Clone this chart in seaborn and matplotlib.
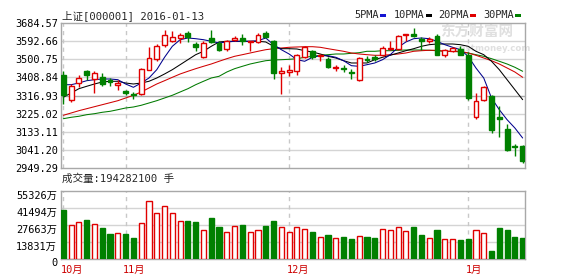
import matplotlib
matplotlib.use("Agg")
import matplotlib.pyplot as plt
import matplotlib.transforms as mtransforms
from matplotlib.patches import Rectangle
import seaborn as sns
import numpy as np
import pandas as pd

# ---------------- data ----------------
dates = (["2015-10-%02d" % d for d in [21, 22, 23, 26, 27, 28, 29, 30]] +
         ["2015-11-%02d" % d for d in [2, 3, 4, 5, 6, 9, 10, 11, 12, 13, 16, 17, 18, 19, 20, 23, 24, 25, 26, 27, 30]] +
         ["2015-12-%02d" % d for d in [1, 2, 3, 4, 7, 8, 9, 10, 11, 14, 15, 16, 17, 18, 21, 22, 23, 24, 25, 28, 29, 30, 31]] +
         ["2016-01-%02d" % d for d in [4, 5, 6, 7, 8, 11, 12, 13]])

open_ = [3419.4, 3295.6, 3380.3, 3442.7, 3402.0, 3409.2, 3394.0, 3371.7, 3339.7, 3324.5,
         3326.0, 3447.8, 3503.5, 3571.5, 3594.8, 3608.5, 3633.9, 3579.6, 3510.6, 3608.5,
         3583.2, 3554.2, 3600.0, 3608.5, 3588.0, 3588.2, 3633.9, 3594.8, 3431.0, 3434.6,
         3442.7, 3510.6, 3541.0, 3515.0, 3503.5, 3456.4, 3456.4, 3434.6, 3397.0, 3503.5,
         3510.0, 3520.8, 3552.7, 3552.7, 3622.0, 3628.8, 3605.0, 3591.8, 3617.0, 3520.8,
         3541.0, 3554.0, 3524.0, 3206.4, 3295.6, 3312.9, 3206.4, 3147.0, 3059.3, 3059.0]
high = [3442.7, 3375.0, 3419.4, 3447.8, 3439.7, 3431.0, 3405.7, 3397.0, 3346.0, 3334.7,
        3455.0, 3561.3, 3578.0, 3650.6, 3644.0, 3633.9, 3644.0, 3588.0, 3591.0, 3650.6,
        3591.8, 3600.0, 3617.0, 3628.8, 3592.0, 3634.0, 3645.0, 3600.0, 3460.0, 3470.0,
        3527.4, 3569.5, 3549.2, 3527.0, 3510.0, 3473.0, 3473.0, 3451.0, 3510.7, 3515.7,
        3520.0, 3566.4, 3594.8, 3622.0, 3628.8, 3659.0, 3612.0, 3612.0, 3630.0, 3554.0,
        3562.9, 3570.0, 3535.0, 3329.6, 3363.6, 3318.0, 3262.0, 3172.4, 3071.0, 3067.5]
low = [3273.8, 3284.0, 3358.5, 3397.0, 3329.6, 3363.6, 3363.6, 3346.0, 3318.0, 3300.7,
       3320.0, 3445.0, 3493.4, 3565.0, 3588.0, 3583.0, 3588.0, 3541.0, 3507.0, 3583.2,
       3541.0, 3544.0, 3594.8, 3574.5, 3544.0, 3583.0, 3608.5, 3402.0, 3324.5, 3414.0,
       3422.4, 3507.0, 3503.5, 3494.0, 3455.0, 3440.0, 3436.0, 3402.0, 3392.0, 3485.0,
       3490.0, 3515.7, 3549.2, 3549.2, 3595.0, 3612.0, 3549.0, 3583.0, 3520.8, 3510.6,
       3536.0, 3520.8, 3296.0, 3199.3, 3290.6, 3126.8, 3105.0, 3037.0, 3008.6, 2974.6]
close = [3321.0, 3363.6, 3405.7, 3422.4, 3429.5, 3375.2, 3385.4, 3380.3, 3328.0, 3318.0,
         3452.8, 3507.0, 3566.4, 3625.2, 3612.0, 3625.0, 3612.0, 3562.9, 3583.0, 3588.2,
         3549.2, 3591.8, 3608.5, 3591.8, 3592.0, 3622.2, 3613.6, 3431.0, 3439.6, 3447.8,
         3520.8, 3561.3, 3510.6, 3520.0, 3460.0, 3463.0, 3451.3, 3431.0, 3507.1, 3497.0,
         3503.5, 3557.8, 3557.8, 3617.0, 3628.8, 3617.0, 3591.8, 3605.0, 3520.8, 3546.0,
         3557.8, 3524.0, 3304.0, 3287.5, 3358.5, 3143.5, 3199.3, 3042.0, 3054.0, 2986.0]
volume = [39870, 27660, 29860, 31730, 28480, 25470, 20340, 21400, 20340, 17330,
          29050, 47430, 37180, 43120, 37180, 30670, 30670, 30100, 23600, 33600,
          26280, 22210, 26850, 27910, 22210, 23600, 27090, 31160, 25790, 22210,
          25790, 24410, 22210, 18140, 19770, 17090, 18140, 16270, 18710, 18140,
          17330, 24300, 23600, 25790, 22780, 26280, 19770, 17090, 23600, 16030,
          16030, 15460, 16270, 23600, 21400, 6750, 25220, 23600, 18140, 17090]

ma5 = [3371.7, 3371.7, 3380.3, 3392.0, 3397.1, 3400.6, 3400.6, 3397.1, 3375.3, 3358.5,
       3380.3, 3405.7, 3447.8, 3510.7, 3566.4, 3599.9, 3608.5, 3605.0, 3599.9, 3591.8,
       3583.2, 3588.3, 3591.8, 3591.8, 3591.8, 3594.8, 3608.5, 3574.6, 3549.2, 3527.4,
       3498.5, 3490.4, 3510.7, 3518.8, 3518.8, 3510.7, 3493.4, 3468.1, 3465.0, 3473.1,
       3481.8, 3498.5, 3523.9, 3561.4, 3588.3, 3605.0, 3608.5, 3605.0, 3591.8, 3574.6,
       3561.4, 3549.2, 3515.7, 3456.4, 3405.7, 3304.3, 3244.9, 3194.2, 3152.1, 3101.4]
ma10 = [3307.8, 3329.6, 3351.4, 3363.6, 3375.3, 3385.4, 3389.0, 3389.0, 3380.3, 3375.3,
        3380.3, 3389.0, 3405.7, 3426.0, 3447.8, 3473.1, 3498.5, 3523.9, 3541.1, 3566.4,
        3588.3, 3591.8, 3591.8, 3591.8, 3591.8, 3591.8, 3588.3, 3566.4, 3554.3, 3554.3,
        3552.8, 3544.1, 3537.5, 3527.4, 3515.7, 3507.1, 3493.4, 3481.8, 3481.8, 3481.8,
        3498.5, 3510.7, 3520.8, 3532.5, 3544.1, 3554.3, 3566.4, 3574.6, 3578.1, 3578.1,
        3578.1, 3574.6, 3566.4, 3541.1, 3523.9, 3490.4, 3447.8, 3397.1, 3346.4, 3295.7]
ma20 = [3216.6, 3228.2, 3239.9, 3250.0, 3260.2, 3270.3, 3280.4, 3290.6, 3304.3, 3318.0,
        3334.7, 3355.0, 3375.3, 3392.0, 3409.2, 3426.0, 3439.7, 3452.9, 3465.0, 3476.7,
        3490.4, 3503.6, 3515.7, 3523.9, 3532.5, 3541.1, 3549.2, 3554.3, 3557.8, 3561.4,
        3562.9, 3564.4, 3564.4, 3561.4, 3554.3, 3547.7, 3541.1, 3532.5, 3527.4, 3523.9,
        3520.8, 3520.8, 3523.9, 3527.4, 3532.5, 3541.1, 3544.1, 3546.2, 3546.2, 3541.1,
        3541.1, 3541.1, 3532.5, 3520.8, 3507.1, 3493.4, 3476.7, 3456.4, 3436.1, 3409.2]
ma30 = [3199.3, 3206.4, 3211.5, 3219.6, 3224.7, 3231.8, 3236.8, 3244.9, 3253.6, 3258.6,
        3267.3, 3278.9, 3290.6, 3304.3, 3318.0, 3334.7, 3351.4, 3371.7, 3389.0, 3405.7,
        3414.3, 3436.1, 3452.9, 3465.0, 3476.7, 3485.3, 3493.4, 3497.0, 3498.5, 3500.5,
        3503.6, 3510.7, 3515.7, 3520.8, 3523.9, 3527.4, 3527.4, 3530.9, 3534.0, 3541.1,
        3541.1, 3544.1, 3544.1, 3546.2, 3547.7, 3547.7, 3547.7, 3546.2, 3544.1, 3541.1,
        3541.1, 3537.5, 3532.5, 3523.9, 3515.7, 3503.6, 3490.4, 3476.7, 3460.0, 3439.7]

price_ticks = [2949.29, 3041.20, 3133.11, 3225.02, 3316.93, 3408.84, 3500.75, 3592.66, 3684.57]
price_tick_labels = ["2949.29", "3041.20", "3133.11", "3225.02", "3316.93",
                     "3408.84", "3500.75", "3592.66", "3684.57"]
vol_ticks = [0, 13831, 27663, 41494, 55326]
vol_tick_labels = ["0", "13831万", "27663万", "41494万", "55326万"]
ma_names = ["5PMA", "10PMA", "20PMA", "30PMA"]
title_text = "上证[000001] 2016-01-13"
vol_title = "成交量:194282100 手"

# ---------------- style ----------------
sns.set_theme(style="white")
FONT = ['DejaVu Sans Mono', 'Noto Sans CJK SC']
plt.rcParams['font.family'] = FONT
plt.rcParams['axes.unicode_minus'] = False

RED = '#e00000'
GREEN = '#008000'
GRID = '#d4d4d4'
SPINE = '#a8a8a8'
ma_colors = {"5PMA": '#00008c', "10PMA": '#000000', "20PMA": '#d00000', "30PMA": '#007a00'}
legend_marker_colors = {"5PMA": '#1414d2', "10PMA": '#000000', "20PMA": '#e00000', "30PMA": '#008000'}
FS = 7.4

W, H = 582, 280
fig = plt.figure(figsize=(W / 100, H / 100), dpi=100)
fig.patch.set_facecolor('white')


def frame(l, t, r, b):
    return [l / W, 1 - b / H, (r - l) / W, (b - t) / H]


ax = fig.add_axes(frame(61, 23, 525, 168))
axv = fig.add_axes(frame(61, 191, 525, 259))

x = np.arange(len(dates))
o = np.array(open_)
c = np.array(close)
hi = np.array(high)
lo = np.array(low)
vol = np.array(volume)
up = c >= o
b_lo = np.minimum(o, c)
b_hi = np.maximum(o, c)

# ---------------- price panel ----------------
for a in (ax, axv):
    a.set_facecolor('white')
    for s in a.spines.values():
        s.set_color(SPINE)
        s.set_linewidth(1)
    a.set_xlim(-0.3, 59.3)
    a.set_xticks([])
    a.tick_params(axis='y', length=0, labelsize=FS, colors='black')

ax.set_ylim(price_ticks[0], price_ticks[-1])
ax.set_yticks(price_ticks)
ax.set_yticklabels(price_tick_labels)
ax.tick_params(axis='y', pad=2.2)
for v in price_ticks[1:-1]:
    ax.axhline(v, color=(SPINE if v == price_ticks[4] else GRID), lw=1, zorder=0.5)

# month boundaries
months = [d[:7] for d in dates]
month_starts = [i for i in range(len(months)) if i == 0 or months[i] != months[i - 1]]
for i in month_starts:
    for a in (ax, axv):
        a.axvline(i, color='#c8c8c8', lw=1, ls=(0, (3, 3)), zorder=0.6)

# watermark
ax.text(440 / W, 1 - 32 / H, "东方财富网", transform=fig.transFigure, fontsize=10.5,
        fontweight='bold', color='#e0e0e0', family=['Noto Sans CJK SC'], va='center',
        ha='left', zorder=0.7, clip_on=False)
ax.text(455 / W, 1 - 48 / H, "eastmoney.com", transform=fig.transFigure, fontsize=6.2,
        fontweight='bold', color='#e0e0e0', family=['DejaVu Sans'], va='center',
        ha='left', zorder=0.7, clip_on=False)

# MA lines via seaborn
ma_df = pd.DataFrame({"x": x, "5PMA": ma5, "10PMA": ma10, "20PMA": ma20, "30PMA": ma30})
ma_long = ma_df.melt(id_vars="x", var_name="ma", value_name="value")
sns.lineplot(data=ma_long, x="x", y="value", hue="ma", hue_order=ma_names[::-1],
             palette=ma_colors, ax=ax, legend=False, lw=0.75, zorder=3)
ax.set_xlabel("")
ax.set_ylabel("")

# candles
bw = 0.62
ax.vlines(x[up], lo[up], b_lo[up], color=RED, lw=1, zorder=4)
ax.vlines(x[up], b_hi[up], hi[up], color=RED, lw=1, zorder=4)
ax.vlines(x[~up], lo[~up], hi[~up], color=GREEN, lw=1, zorder=4)
ax.bar(x[up], (b_hi - b_lo)[up], bottom=b_lo[up], width=bw, facecolor='white',
       edgecolor=RED, lw=1, zorder=5)
ax.bar(x[~up], (b_hi - b_lo)[~up], bottom=b_lo[~up], width=bw, facecolor=GREEN,
       edgecolor=GREEN, lw=1, zorder=5)

# ---------------- volume panel ----------------
axv.set_ylim(vol_ticks[0], vol_ticks[-1])
axv.set_yticks(vol_ticks)
axv.set_yticklabels(vol_tick_labels)
axv.tick_params(axis='y', pad=2.8)
for v in vol_ticks[1:-1]:
    axv.axhline(v, color=GRID, lw=1, zorder=0.5)
offset = mtransforms.ScaledTranslation(0, -3.5 / 100, fig.dpi_scale_trans)
for lab in axv.get_yticklabels():
    lab.set_transform(lab.get_transform() + offset)

axv.bar(x[up], vol[up], width=0.66, facecolor='white', edgecolor=RED, lw=1, zorder=3)
axv.bar(x[~up], vol[~up], width=0.66, facecolor=GREEN, edgecolor=GREEN, lw=1, zorder=3)

month_tr = mtransforms.blended_transform_factory(axv.transData, axv.transAxes)
for i in month_starts:
    label = str(int(dates[i][5:7])) + "月"
    axv.text(i - 0.3, -0.165, label, transform=month_tr, color='#cc0000', fontsize=FS,
             ha='left', va='center', family=FONT, clip_on=False)

# ---------------- header texts ----------------
fig.text(62.5 / W, 1 - 15.5 / H, title_text, fontsize=7.6, ha='left', va='center', family=FONT)
fig.text(62 / W, 1 - 178.5 / H, vol_title, fontsize=7.6, ha='left', va='center', family=FONT)

legend_x = {"5PMA": 354, "10PMA": 394, "20PMA": 438, "30PMA": 483}
for name in ma_names:
    t = fig.text(legend_x[name] / W, 1 - 15.5 / H, name, fontsize=FS, ha='left',
                 va='center', family=FONT)
    n = len(name)
    mx = legend_x[name] + n * 6.05 + 2
    fig.patches.append(Rectangle((mx / W, 1 - 17 / H), 6 / W, 3 / H,
                                 transform=fig.transFigure, facecolor=legend_marker_colors[name],
                                 edgecolor='none'))

fig.savefig("out.png", dpi=100, facecolor='white')
